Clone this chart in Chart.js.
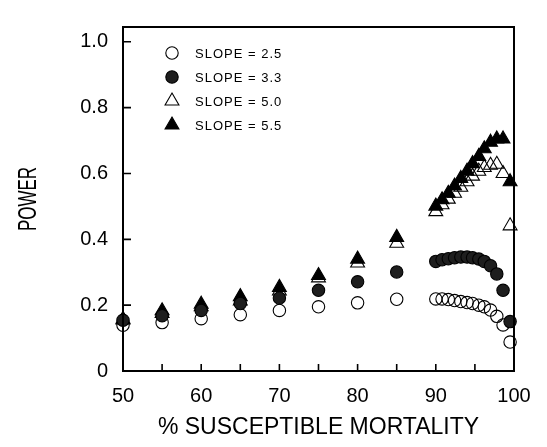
<!DOCTYPE html>
<html>
<head>
<meta charset="utf-8">
<script src="https://cdn.jsdelivr.net/npm/chart.js@4/dist/chart.umd.min.js"></script>
<style>
  body { margin: 0; background: #fff; }
  #wrap { width: 547px; height: 447px; }
</style>
</head>
<body>
<div id="wrap"><canvas id="power_chart"></canvas></div>
<script>
// % susceptible mortality (x) and power for each slope
const mortality = [50, 55, 60, 65, 70, 75, 80, 85,
    90, 90.8, 91.6, 92.4, 93.2, 94, 94.7, 95.5, 96.2, 97, 97.8, 98.6, 99.5];
const slope25 = [0.139, 0.147, 0.159, 0.171, 0.184, 0.195, 0.207, 0.218,
    0.219, 0.219, 0.217, 0.214, 0.211, 0.208, 0.205, 0.200, 0.195, 0.185, 0.166, 0.140, 0.088];
const slope33 = [0.154, 0.168, 0.184, 0.205, 0.222, 0.245, 0.271, 0.301,
    0.333, 0.338, 0.341, 0.344, 0.346, 0.346, 0.344, 0.340, 0.333, 0.320, 0.295, 0.245, 0.150];
const slope50 = [0.155, 0.175, 0.195, 0.213, 0.243, 0.283, 0.328, 0.388,
    0.484, 0.505, 0.522, 0.540, 0.558, 0.575, 0.592, 0.607, 0.618, 0.625, 0.628, 0.600, 0.441];
const slope55 = [0.157, 0.183, 0.203, 0.226, 0.254, 0.290, 0.340, 0.406,
    0.501, 0.520, 0.540, 0.562, 0.585, 0.607, 0.630, 0.652, 0.675, 0.695, 0.705, 0.705, 0.575];

const seriesNames = ['SLOPE = 2.5', 'SLOPE = 3.3', 'SLOPE = 5.0', 'SLOPE = 5.5'];
const xTickLabels = [50, 60, 70, 80, 90, 100];
const xTickMarks = [55, 60, 65, 70, 75, 80, 85, 90, 95];
const yTickLabels = [0, 0.2, 0.4, 0.6, 0.8, 1.0];

function pts(ys) {
    return mortality.map((x, i) => ({ x: x, y: ys[i] }));
}

const FONT = '"Liberation Sans", Arial, sans-serif';

function marker(ctx, ds, x, y) {
    const r = ds.pointRadius;
    ctx.beginPath();
    if (ds.pointStyle === 'triangle') {
        ctx.moveTo(x, y - r);
        ctx.lineTo(x + r * Math.sin(2 * Math.PI / 3), y - r * Math.cos(2 * Math.PI / 3));
        ctx.lineTo(x + r * Math.sin(4 * Math.PI / 3), y - r * Math.cos(4 * Math.PI / 3));
        ctx.closePath();
    } else {
        ctx.arc(x, y, r, 0, Math.PI * 2);
    }
    ctx.fillStyle = ds.backgroundColor;
    ctx.fill();
    ctx.lineWidth = ds.borderWidth;
    ctx.strokeStyle = ds.borderColor;
    ctx.stroke();
}

const framePlugin = {
    id: 'plotFrame',
    afterDraw(chart) {
        const c = chart.ctx;
        const xs = chart.scales.x, ys = chart.scales.y;
        const L = xs.left, R = xs.right, T = ys.top, B = ys.bottom;
        c.save();

        // box round the plot, drawn as a closed outline path
        c.beginPath();
        c.moveTo(L, T);
        c.lineTo(R, T);
        c.lineTo(R, B);
        c.lineTo(L, B);
        c.closePath();
        c.strokeStyle = 'rgb(0,0,0)';
        c.lineWidth = 2;
        c.stroke();

        // tick marks as tiny filled triangles-free paths
        c.beginPath();
        xTickMarks.forEach(v => {
            const px = xs.getPixelForValue(v);
            c.rect(px - 0.8, B - 7, 1.6, 7);
        });
        yTickLabels.forEach(v => {
            const py = ys.getPixelForValue(v);
            c.rect(L, py - 0.8, 8, 1.6);
        });
        c.fillStyle = 'rgb(0,0,0)';
        c.fill();

        // legend inside the plot
        const lx = L + 49, ly = T + 26;
        chart.data.datasets.forEach((ds, i) => {
            const y = ly + i * 24;
            marker(c, ds, lx, y);
            c.fillStyle = '#000';
            c.font = '13px ' + FONT;
            c.letterSpacing = '1px';
            c.textAlign = 'left';
            c.textBaseline = 'middle';
            c.fillText(ds.label, lx + 23, y + 1);
        });
        c.letterSpacing = '0px';

        // y axis title, narrow like the original lettering
        c.translate(29, (T + B) / 2);
        c.rotate(-Math.PI / 2);
        c.scale(0.68, 1);
        c.font = '25px ' + FONT;
        c.textAlign = 'center';
        c.textBaseline = 'middle';
        c.fillStyle = '#000';
        c.fillText('POWER', 0, 0);
        c.restore();
    }
};

const ctx = document.getElementById('power_chart').getContext('2d');
const power_chart = new Chart(ctx, {
    type: 'scatter',
    data: {
        datasets: [{
            label: seriesNames[0],
            data: pts(slope25),
            pointStyle: 'circle',
            pointRadius: 6.2,
            backgroundColor: 'rgba(0,0,0,0)',
            borderColor: '#000',
            borderWidth: 1.1,
            order: 3
        }, {
            label: seriesNames[1],
            data: pts(slope33),
            pointStyle: 'circle',
            pointRadius: 6.2,
            backgroundColor: '#1e1e1e',
            borderColor: '#000',
            borderWidth: 1.1,
            order: 0
        }, {
            label: seriesNames[2],
            data: pts(slope50),
            pointStyle: 'triangle',
            pointRadius: 8,
            backgroundColor: 'rgba(0,0,0,0)',
            borderColor: '#000',
            borderWidth: 1.1,
            order: 2
        }, {
            label: seriesNames[3],
            data: pts(slope55),
            pointStyle: 'triangle',
            pointRadius: 8,
            backgroundColor: '#000',
            borderColor: '#000',
            borderWidth: 1.1,
            order: 1
        }]
    },
    options: {
        responsive: true,
        maintainAspectRatio: false,
        animation: false,
        clip: false,
        layout: { padding: { top: 9, right: 33, left: 0, bottom: 0 } },
        plugins: {
            legend: { display: false },
            tooltip: { enabled: false }
        },
        scales: {
            x: {
                type: 'linear',
                min: 50,
                max: 100,
                afterBuildTicks: s => { s.ticks = xTickLabels.map(v => ({ value: v })); },
                afterFit: s => { s.height = 76; },
                grid: { display: true, drawOnChartArea: false, drawTicks: false, color: '#000' },
                border: { display: true, color: '#000', width: 2 },
                ticks: { color: '#000', padding: 13, font: { family: FONT, size: 20 } },
                title: {
                    display: true,
                    text: '% SUSCEPTIBLE MORTALITY',
                    color: '#000',
                    font: { family: FONT, size: 23 },
                    padding: { top: 0, bottom: 6 }
                }
            },
            y: {
                type: 'linear',
                min: 0,
                max: 1.045,
                afterBuildTicks: s => { s.ticks = yTickLabels.map(v => ({ value: v })); },
                afterFit: s => { s.width = 123; },
                grid: { display: true, drawOnChartArea: false, drawTicks: false, color: '#000' },
                border: { display: true, color: '#000', width: 2 },
                ticks: {
                    color: '#000',
                    padding: 15,
                    font: { family: FONT, size: 20 },
                    callback: v => v === 0 ? '0' : v.toFixed(1)
                }
            }
        }
    },
    plugins: [framePlugin]
});
</script>
</body>
</html>
